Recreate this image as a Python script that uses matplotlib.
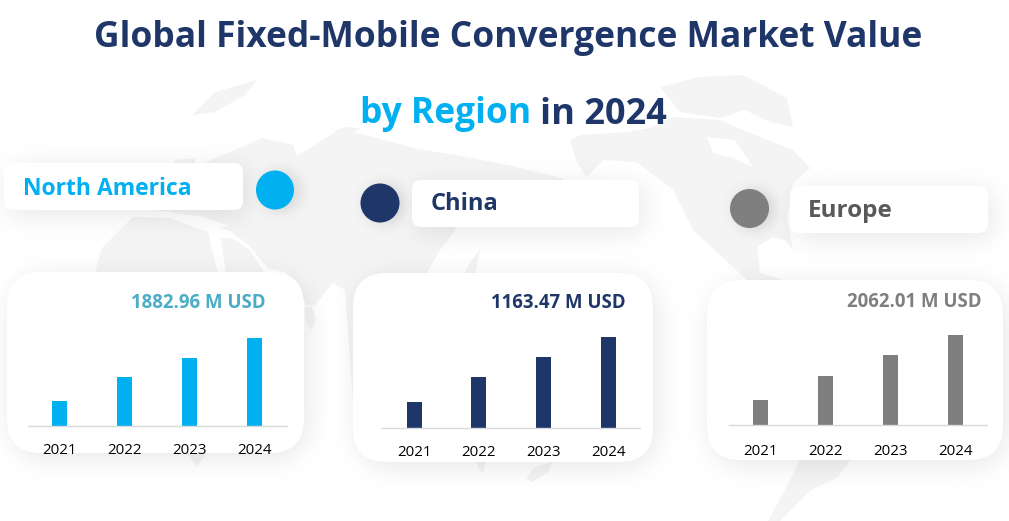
import numpy as np
import matplotlib
matplotlib.use("Agg")
import matplotlib.pyplot as plt
from matplotlib.patches import FancyBboxPatch, Polygon, Ellipse

# ---------- data ----------
years = ["2021", "2022", "2023", "2024"]
north_america = [535, 1048, 1455, 1882.96]
china = [332, 652, 908, 1163.47]
europe = [573, 1123, 1604, 2062.01]
region_names = ["North America", "China", "Europe"]
totals = ["1882.96 M USD", "1163.47 M USD", "2062.01 M USD"]
title_line1 = "Global Fixed-Mobile Convergence Market Value"

NAVY = "#1F3669"
CYAN = "#00B0F0"
GREY = "#7F7F7F"
LAND = "#F4F4F4"
FONT = "Open Sans"
W, H = 1009, 521

# faint backdrop land shapes (pixel space)
land = [
    # Eurasia
    [(133,200),(150,190),(172,189),(175,160),(195,158),(195,167),(226,154),(262,138),(293,145),(297,156),(337,131),(362,134),
     (418,149),(462,156),(507,165),(561,178),(572,189),(538,189),(516,194),(507,212),(490,205),(475,215),(462,221),
     (440,250),(418,288),(436,292),(425,310),(413,345),(400,400),(353,400),(345,290),(333,283),(315,305),(306,305),(298,285),(285,272),
     (268,268),(250,247),(232,232),(222,228),(172,212),(150,210)],
    # Arabia
    [(221,238),(232,238),(250,250),(264,272),(272,285),(240,300),(228,290)],
    # Africa
    [(95,272),(102,248),(133,217),(170,218),(208,232),(218,274),(238,298),(245,320),(222,400),(205,455),(197,467),(188,455),(170,370),(130,345),(100,315)],
    # Arctic pieces
    [(192,115),(215,92),(257,80),(245,95),(215,112)],
    [(333,131),(345,127),(360,128),(352,134)],
    [(460,283),(470,262),(480,250),(476,270),(468,290)],
    [(305,308),(312,306),(316,320),(311,330),(306,322)],
    # North America
    [(570,140),(580,135),(627,132),(650,128),(673,117),(720,120),(760,137),(793,150),(810,168),(793,183),(787,217),(793,250),(785,240),
     (773,237),(757,247),(760,273),(783,280),(790,300),(747,300),(747,280),(733,267),(693,230),(673,190),(637,162),(603,160),(587,177),(577,163)],
    # Canadian arctic and Greenland
    [(660,87),(700,77),(743,75),(787,98),(793,127),(770,122),(745,110),(720,118),(680,112)],
    # South America
    [(802,455),(854,455),(838,477),(811,490),(780,521),(768,521),(785,490)],
    # Australia and New Zealand remnants
    [(476,455),(488,455),(483,473),(478,468)],
    [(553,462),(548,472),(532,482),(526,478),(534,468)],
]
holes = [
    [(707,137),(735,140),(753,167),(733,158),(713,153)],
    [(173,213),(200,216),(230,226),(215,228),(190,222)],
]

fig = plt.figure(figsize=(W / 100, H / 100), dpi=100, facecolor="white")
bg = fig.add_axes([0, 0, 1, 1], zorder=0)
bg.axis("off")

for poly in land:
    bg.add_patch(Polygon(poly, closed=True, fc=LAND, ec="none", zorder=1))
for poly in holes:
    bg.add_patch(Polygon(poly, closed=True, fc="white", ec="none", zorder=1.5))

yy, xx = np.mgrid[0:H, 0:W] + 0.5


def rr_mask(x, y, w, h, r):
    cx, cy = x + w / 2, y + h / 2
    qx = np.abs(xx - cx) - (w / 2 - r)
    qy = np.abs(yy - cy) - (h / 2 - r)
    d = np.hypot(np.maximum(qx, 0), np.maximum(qy, 0)) + np.minimum(np.maximum(qx, qy), 0) - r
    return (d < 0).astype(float)


def blur(a, sigma):
    n = int(3 * sigma)
    k = np.exp(-0.5 * (np.arange(-n, n + 1) / sigma) ** 2)
    k /= k.sum()
    a = np.apply_along_axis(lambda v: np.convolve(v, k, mode="same"), 0, a)
    return np.apply_along_axis(lambda v: np.convolve(v, k, mode="same"), 1, a)


shadow = np.zeros((H, W))


def add_shadow(x, y, w, h, r, sigma, alpha, dx, dy):
    global shadow
    shadow = np.maximum(shadow, blur(rr_mask(x + dx, y + dy, w, h, r), sigma) * alpha)


def card(x, y, w, h, r, sigma=14, alpha=0.10):
    add_shadow(x, y, w, h, r, sigma, alpha, 4, 5)
    bg.add_patch(FancyBboxPatch((x, y), w, h, boxstyle=f"round,pad=0,rounding_size={r}",
                                fc="white", ec="none", zorder=3))


def dot(cx, cy, rx, ry, color):
    add_shadow(cx - rx, cy - ry, 2 * rx, 2 * ry, rx, 8, 0.15, 5, 1)
    bg.add_patch(Ellipse((cx, cy), 2 * rx, 2 * ry, fc=color, ec="none", zorder=4))


# label pills and dots
card(4, 163, 239, 47, 9)
card(412, 180, 227, 47, 9)
card(790, 186, 198, 47, 9)
dot(275, 190, 19, 19.5, CYAN)
dot(380, 203, 19.5, 19.5, NAVY)
dot(749.5, 208.5, 19.5, 19.5, GREY)

# chart cards
card(7, 272, 297, 181, 34)
card(353, 273, 300, 189, 34)
card(707, 280, 296, 180, 34)

rgba = np.zeros((H, W, 4))
rgba[..., 3] = shadow
bg.imshow(rgba, extent=(0, W, H, 0), zorder=2, interpolation="nearest", aspect="auto")
bg.set_xlim(0, W)
bg.set_ylim(H, 0)

# titles
bg.text(508, 38.5, title_line1, ha="center", va="center", fontsize=25.5, fontweight="bold",
        color=NAVY, family=FONT, zorder=6)
bg.text(360, 114.5, "by Region", ha="left", va="center", fontsize=25.5, fontweight="bold",
        color=CYAN, family=FONT, zorder=6)
bg.text(540, 114.5, "in 2024", ha="left", va="center", fontsize=26, fontweight="bold",
        color=NAVY, family=FONT, zorder=6)

# region names
name_pos = [(23, 189, CYAN, 16.5), (431, 204, NAVY, 17), (808, 211, "#595959", 17.5)]
for name, (x, y, c, fs) in zip(region_names, name_pos):
    bg.text(x, y, name, ha="left", va="center", fontsize=fs, fontweight="bold",
            color=c, family=FONT, zorder=6)

# totals
total_pos = [(265.5, 303, "#4BACC6"), (625.5, 303, NAVY), (981.5, 302, GREY)]
for txt, (x, y, c) in zip(totals, total_pos):
    bg.text(x, y, txt, ha="right", va="center", fontsize=13.4, fontweight="bold",
            color=c, family=FONT, zorder=6)

# bar charts
series = [north_america, china, europe]
colors = [CYAN, NAVY, GREY]
axis_x = [(27.5, 286.5), (382, 640.5), (728.5, 987.5)]
base_y = [426, 428, 425]
top_px = [88, 91, 90]
label_y = [448, 450, 448]

for vals, col, (x0, x1), by, tp, ly in zip(series, colors, axis_x, base_y, top_px, label_y):
    ax = fig.add_axes([x0 / W, 1 - by / H, (x1 - x0) / W, 100 / H], zorder=5)
    ax.patch.set_alpha(0)
    pos = np.arange(len(years))
    ax.bar(pos, vals, width=15 / ((x1 - x0) / 4), color=col)
    ax.set_xlim(-0.5, 3.5)
    ax.set_ylim(0, vals[-1] * 100 / tp)
    ax.set_yticks([])
    ax.set_xticks(pos)
    ax.set_xticklabels(years, fontsize=10.8, family=FONT, color="black")
    ax.tick_params(axis="x", length=0, pad=ly - by - 9.5)
    for s in ("top", "left", "right"):
        ax.spines[s].set_visible(False)
    ax.spines["bottom"].set_color("#D9D9D9")
    ax.spines["bottom"].set_linewidth(1)

fig.savefig("out.png", dpi=100, facecolor="white")
